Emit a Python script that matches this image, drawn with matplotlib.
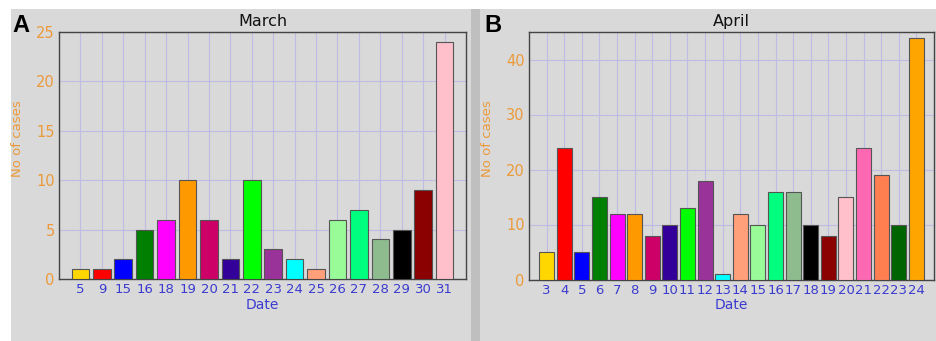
import matplotlib
matplotlib.use("Agg")
import matplotlib.pyplot as plt
from matplotlib.patches import Rectangle

march_dates = ["5", "9", "15", "16", "18", "19", "20", "21", "22", "23", "24", "25",
               "26", "27", "28", "29", "30", "31"]
march_cases = [1, 1, 2, 5, 6, 10, 6, 2, 10, 3, 2, 1, 6, 7, 4, 5, 9, 24]
march_colors = ["#FFD700", "#FF0000", "#0000FF", "#007F00", "#FF00FF", "#FF9900",
                "#CC0066", "#330099", "#00FF00", "#993399", "#00FFFF", "#FFA07A",
                "#98FB98", "#00FF7F", "#8FBC8F", "#000000", "#8B0000", "#FFC0CB"]

april_dates = ["3", "4", "5", "6", "7", "8", "9", "10", "11", "12", "13", "14", "15",
               "16", "17", "18", "19", "20", "21", "22", "23", "24"]
april_cases = [5, 24, 5, 15, 12, 12, 8, 10, 13, 18, 1, 12, 10, 16, 16, 10, 8, 15,
               24, 19, 10, 44]
april_colors = ["#FFD700", "#FF0000", "#0000FF", "#007F00", "#FF00FF", "#FF9900",
                "#CC0066", "#330099", "#00FF00", "#993399", "#00FFFF", "#FFA07A",
                "#98FB98", "#00FF7F", "#8FBC8F", "#000000", "#8B0000", "#FFC0CB",
                "#FF69B4", "#FF7F50", "#006400", "#FFA500"]

W, H = 936, 341
BG = "#d9d9d9"
ORANGE = "#EC9A3A"
BLUE = "#3B3BD0"
GRID = "#bcbce4"

fig = plt.figure(figsize=(W / 100, H / 100), dpi=100, facecolor="white")

def px_rect(x0, y0, x1, y1, color):
    fig.patches.append(Rectangle((x0 / W, 1 - y1 / H), (x1 - x0) / W, (y1 - y0) / H,
                                 transform=fig.transFigure, facecolor=color,
                                 edgecolor="none", zorder=-10))

px_rect(11, 9, 471, 341, BG)
px_rect(471, 9, 480, 341, "#bfbfbf")
px_rect(480, 9, 936, 341, BG)

def panel(rect_px, dates, cases, colors, ylim, yticks, title, letter, letter_px, width):
    x0, y0, x1, y1 = rect_px
    ax = fig.add_axes([x0 / W, 1 - y1 / H, (x1 - x0) / W, (y1 - y0) / H])
    ax.set_facecolor(BG)
    pos = list(range(len(dates)))
    ax.bar(pos, cases, width=width, color=colors, edgecolor="#555555", linewidth=0.8,
           zorder=3)
    ax.set_xlim(-1, len(dates))
    ax.set_ylim(*ylim)
    ax.set_xticks(pos)
    ax.set_xticklabels(dates, color=BLUE, fontsize=9.5)
    ax.set_yticks(yticks)
    ax.set_yticklabels([str(t) for t in yticks], color=ORANGE, fontsize=10.5)
    ax.tick_params(length=0, pad=3)
    ax.grid(True, color=GRID, linewidth=0.8, zorder=0)
    ax.set_axisbelow(True)
    for s in ax.spines.values():
        s.set_color("#444444")
        s.set_linewidth(1.0)
    ax.set_title(title, fontsize=11.5, color="#111111", pad=4)
    ax.set_xlabel("Date", color=BLUE, fontsize=10, labelpad=1)
    ax.set_ylabel("No of cases", color=ORANGE, fontsize=9.5)
    ax.yaxis.set_label_coords(-0.086, 0.57)
    fig.text(letter_px[0] / W, 1 - letter_px[1] / H, letter, fontsize=17,
             fontweight="bold", family="Liberation Sans", va="center", ha="left")
    return ax

panel((59, 32, 466, 279), march_dates, march_cases, march_colors, (0, 25),
      [0, 5, 10, 15, 20, 25], "March", "A", (12, 26), 0.82)
panel((529, 32, 934, 279.5), april_dates, april_cases, april_colors, (0, 45),
      [0, 10, 20, 30, 40], "April", "B", (484, 26), 0.85)

fig.savefig("out.png", dpi=100, facecolor="white")
